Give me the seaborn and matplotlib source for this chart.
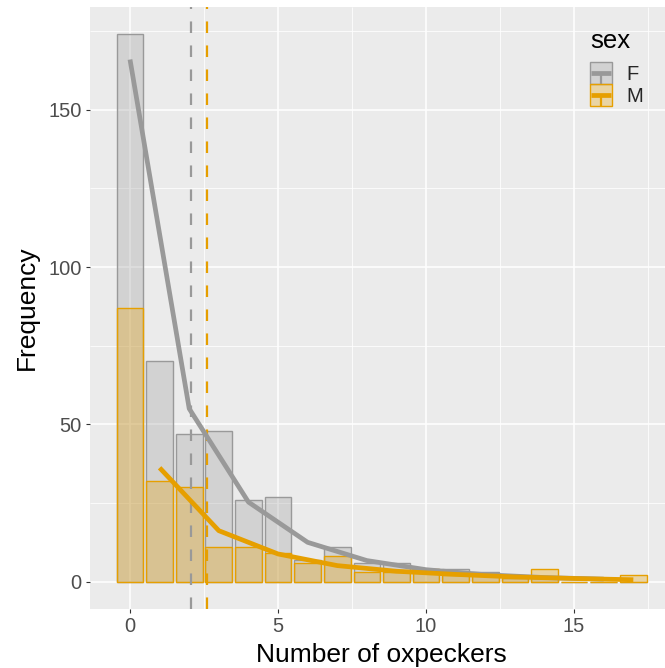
import matplotlib
matplotlib.use("Agg")
import numpy as np
import pandas as pd
import matplotlib.pyplot as plt
import seaborn as sns
from matplotlib.legend_handler import HandlerBase
from matplotlib.patches import Rectangle
from matplotlib.lines import Line2D
from matplotlib.colors import to_rgba
from matplotlib.ticker import MultipleLocator

# ---- data ----
oxpeckers = list(range(18))
freq_F = [174, 70, 47, 48, 26, 27, 7, 11, 6, 6, 4, 4, 3, 1, 1, 0, 0, 0]
freq_M = [87, 32, 30, 11, 11, 9, 6, 8, 3, 3, 4, 2, 2, 1, 4, 0, 0, 2]
fit_x_F = [0, 2, 4, 6, 8, 10, 12, 14, 16]
fit_F = [166, 55, 25.3, 12.5, 6.7, 3.8, 2.2, 1.3, 0.8]
fit_x_M = [1, 3, 5, 7, 9, 11, 13, 15, 17]
fit_M = [36.2, 16.2, 8.8, 5.1, 3.3, 2.3, 1.5, 1.0, 0.6]
sexes = ["F", "M"]
mean_by_sex = [2.07, 2.61]
palette = {"F": "#999999", "M": "#E69F00"}

bars = pd.DataFrame({
    "Number of oxpeckers": oxpeckers * 2,
    "freq": freq_F + freq_M,
    "sex": ["F"] * len(freq_F) + ["M"] * len(freq_M),
})
fits = pd.DataFrame({
    "x": fit_x_F + fit_x_M,
    "y": fit_F + fit_M,
    "sex": ["F"] * len(fit_F) + ["M"] * len(fit_M),
})

sns.set_theme(style="darkgrid", rc={
    "axes.facecolor": "#EBEBEB",
    "grid.color": "white",
    "lines.solid_capstyle": "butt",
})
plt.rcParams["font.family"] = ["Liberation Sans", "DejaVu Sans"]

W, H = 665, 668
fig = plt.figure(figsize=(W / 100, H / 100), dpi=100)
ax = fig.add_axes([90 / W, (H - 609) / H, (W - 90) / W, (609 - 7) / H])
ax.set_facecolor("#EBEBEB")

for sex in sexes:
    sub = bars[bars["sex"] == sex]
    sns.histplot(data=sub, x="Number of oxpeckers", weights="freq", discrete=True,
                 shrink=0.9, color=palette[sex], alpha=0.3,
                 edgecolor=palette[sex], linewidth=1.0, ax=ax, zorder=2)

for sex, m in zip(sexes, mean_by_sex):
    ax.axvline(m, color=palette[sex], lw=1.6, linestyle=(0, (5.2, 5.6)), zorder=3)

sns.lineplot(data=fits, x="x", y="y", hue="sex", palette=palette, lw=3.4,
             legend=False, ax=ax, zorder=4)

ax.set_xlim(-1.351, 18.07)
ax.set_ylim(-8.7, 182.7)
ax.xaxis.set_major_locator(MultipleLocator(5))
ax.xaxis.set_minor_locator(MultipleLocator(2.5))
ax.yaxis.set_major_locator(MultipleLocator(50))
ax.yaxis.set_minor_locator(MultipleLocator(25))
ax.grid(which="major", color="white", lw=1.1)
ax.grid(which="minor", color="white", lw=0.55)
ax.set_axisbelow(True)
for s in ax.spines.values():
    s.set_visible(False)
ax.tick_params(which="major", length=3, width=0.8, color="#333333",
               labelsize=14.5, labelcolor="#4D4D4D", pad=3,
               bottom=True, left=True)
ax.tick_params(which="minor", length=0)

ax.set_xlabel("Number of oxpeckers", fontsize=19, color="black")
ax.set_ylabel("Frequency", fontsize=19, color="black")
ax.xaxis.set_label_coords((381.5 - 90) / (W - 90), (609 - 643) / 602)
ax.yaxis.set_label_coords((39 - 90) / (W - 90), 0.5)


class Key:
    def __init__(self, color):
        self.color = color


class KeyHandler(HandlerBase):
    def create_artists(self, legend, orig_handle, xdescent, ydescent, width,
                       height, fontsize, trans):
        c = orig_handle.color
        x0, y0 = -xdescent, -ydescent
        rect = Rectangle((x0, y0), width, height, facecolor=to_rgba(c, 0.3),
                         edgecolor=c, lw=1.0, transform=trans)
        hl = Line2D([x0 + 1, x0 + width - 1], [y0 + height / 2] * 2, color=c, lw=3.4,
                    solid_capstyle="butt", transform=trans)
        vl = Line2D([x0 + width / 2] * 2, [y0, y0 + height / 2], color=c,
                    lw=1.6, transform=trans)
        return [rect, hl, vl]


fig.text(590 / W, 1 - 48 / H, "sex", fontsize=18.5, color="black", va="baseline")
leg = ax.legend(handles=[Key(palette[s]) for s in sexes], labels=sexes,
                handler_map={Key: KeyHandler()}, loc="upper left",
                bbox_to_anchor=(590 / W, 1 - 62 / H), bbox_transform=fig.transFigure,
                frameon=False, fontsize=14.5, handlelength=1.092, handleheight=1.304,
                handletextpad=0.73, labelspacing=0.0, borderpad=0, borderaxespad=0)

fig.savefig("out.png", dpi=100)
